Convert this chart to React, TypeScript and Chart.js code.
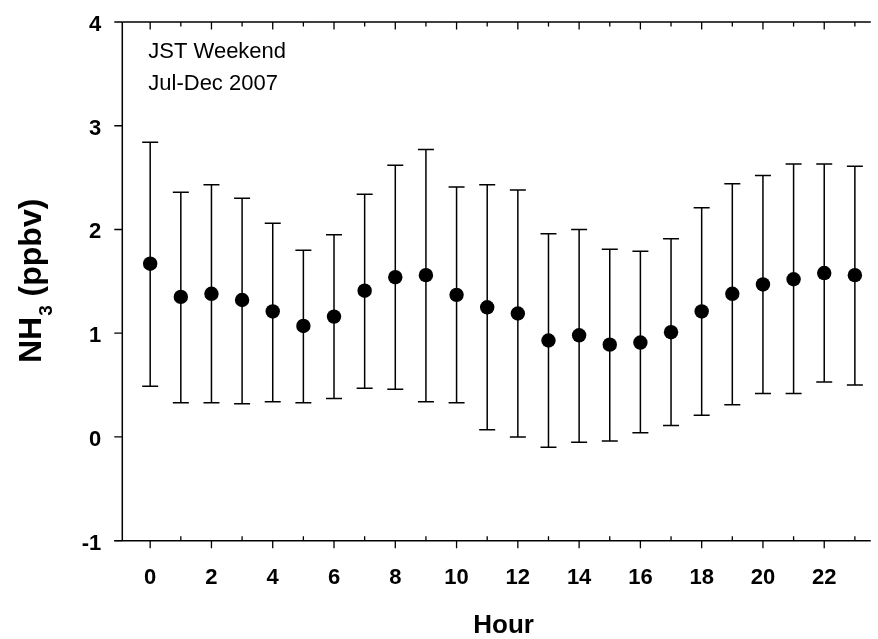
import { useEffect, useRef } from "react";
import { Chart, registerables } from "chart.js";

Chart.register(...registerables);

const hours = [0, 1, 2, 3, 4, 5, 6, 7, 8, 9, 10, 11, 12, 13, 14, 15, 16, 17, 18, 19, 20, 21, 22, 23];
const means = [1.67, 1.35, 1.38, 1.32, 1.21, 1.07, 1.16, 1.41, 1.54, 1.56, 1.37, 1.25, 1.19, 0.93, 0.98, 0.89, 0.91, 1.01, 1.21, 1.38, 1.47, 1.52, 1.58, 1.56];
const upper = [2.84, 2.36, 2.43, 2.3, 2.06, 1.8, 1.95, 2.34, 2.62, 2.77, 2.41, 2.43, 2.38, 1.96, 2.0, 1.81, 1.79, 1.91, 2.21, 2.44, 2.52, 2.63, 2.63, 2.61];
const lower = [0.49, 0.33, 0.33, 0.32, 0.34, 0.33, 0.37, 0.47, 0.46, 0.34, 0.33, 0.07, 0.0, -0.1, -0.05, -0.04, 0.04, 0.11, 0.21, 0.31, 0.42, 0.42, 0.53, 0.5];

const xMajorTicks = [0, 2, 4, 6, 8, 10, 12, 14, 16, 18, 20, 22];
const xMinorTicks = [1, 3, 5, 7, 9, 11, 13, 15, 17, 19, 21, 23];
const yTicks = [-1, 0, 1, 2, 3, 4];
const annotationLines = ["JST Weekend", "Jul-Dec 2007"];
const xTitle = "Hour";

const FONT = "'Liberation Sans', Arial, sans-serif";

const errorBarPlugin = {
  id: "errorBars",
  beforeDatasetsDraw(chart: any) {
    const { ctx } = chart;
    const xs = chart.scales.x;
    const ys = chart.scales.y;
    ctx.save();
    ctx.strokeStyle = "#000";
    ctx.lineWidth = 1.5;
    hours.forEach((h, i) => {
      const px = xs.getPixelForValue(h);
      const pt = ys.getPixelForValue(upper[i]);
      const pb = ys.getPixelForValue(lower[i]);
      ctx.beginPath();
      ctx.moveTo(px, pt);
      ctx.lineTo(px, pb);
      ctx.moveTo(px - 8, pt);
      ctx.lineTo(px + 8, pt);
      ctx.moveTo(px - 8, pb);
      ctx.lineTo(px + 8, pb);
      ctx.stroke();
    });
    ctx.restore();
  },
};

const axesPlugin = {
  id: "frameAxes",
  afterDraw(chart: any) {
    const { ctx, chartArea } = chart;
    const xs = chart.scales.x;
    const ys = chart.scales.y;
    const { left, right, top, bottom } = chartArea;
    ctx.save();
    ctx.strokeStyle = "#000";
    ctx.lineWidth = 1.5;
    ctx.beginPath();
    ctx.moveTo(left, top);
    ctx.lineTo(right, top);
    ctx.moveTo(left, top);
    ctx.lineTo(left, bottom);
    ctx.moveTo(left - 8, bottom);
    ctx.lineTo(right, bottom);
    ctx.stroke();

    ctx.lineWidth = 1.3;
    ctx.beginPath();
    xMajorTicks.forEach((t) => {
      const px = xs.getPixelForValue(t);
      ctx.moveTo(px, bottom);
      ctx.lineTo(px, bottom + 7.5);
      ctx.moveTo(px, top);
      ctx.lineTo(px, top + 7.5);
    });
    xMinorTicks.forEach((t) => {
      const px = xs.getPixelForValue(t);
      ctx.moveTo(px, bottom);
      ctx.lineTo(px, bottom - 4.5);
      ctx.moveTo(px, top);
      ctx.lineTo(px, top + 4.5);
    });
    yTicks.forEach((t) => {
      const py = ys.getPixelForValue(t);
      ctx.moveTo(left, py);
      ctx.lineTo(left - 8, py);
    });
    ctx.stroke();

    ctx.fillStyle = "#000";
    ctx.font = `bold 22px ${FONT}`;
    ctx.textAlign = "right";
    ctx.textBaseline = "alphabetic";
    yTicks.forEach((t) => {
      const py = ys.getPixelForValue(t);
      ctx.fillText(String(t), left - 21, py + 9);
    });
    ctx.textAlign = "center";
    xMajorTicks.forEach((t) => {
      const px = xs.getPixelForValue(t);
      ctx.fillText(String(t), px, bottom + 43.5);
    });

    ctx.font = `bold 26px ${FONT}`;
    ctx.fillText(xTitle, (left + right) / 2 + 7, bottom + 92.5);

    const mid = (top + bottom) / 2;
    ctx.save();
    ctx.translate(40.5, mid);
    ctx.rotate(-Math.PI / 2);
    ctx.textAlign = "left";
    const bigFont = `bold 32px ${FONT}`;
    const subFont = `bold 19px ${FONT}`;
    ctx.font = bigFont;
    const w1 = ctx.measureText("NH").width;
    const w3 = ctx.measureText(" (ppbv)").width;
    ctx.font = subFont;
    const w2 = ctx.measureText("3").width;
    const total = w1 + w2 + w3;
    let x0 = -total / 2;
    ctx.font = bigFont;
    ctx.fillText("NH", x0, 0);
    x0 += w1 + 1;
    ctx.font = subFont;
    ctx.fillText("3", x0, 11);
    x0 += w2;
    ctx.font = bigFont;
    ctx.fillText(" (ppbv)", x0, 0);
    ctx.restore();

    ctx.font = `22px ${FONT}`;
    ctx.textAlign = "left";
    annotationLines.forEach((line, i) => {
      ctx.fillText(line, left + 26, top + 36 + i * 32);
    });
    ctx.restore();
  },
};

export default function App() {
  const canvasRef = useRef<HTMLCanvasElement | null>(null);

  useEffect(() => {
    document.body.style.margin = "0";
    const canvas = canvasRef.current;
    if (!canvas) return;
    const chart = new Chart(canvas, {
      type: "scatter",
      data: {
        datasets: [
          {
            label: "NH3",
            data: hours.map((h, i) => ({ x: h, y: means[i] })),
            pointRadius: 7.2,
            pointHoverRadius: 7.2,
            pointBackgroundColor: "#000",
            pointBorderWidth: 0,
            pointBorderColor: "#000",
          },
        ],
      },
      options: {
        animation: false,
        responsive: true,
        maintainAspectRatio: false,
        devicePixelRatio: 1,
        layout: { padding: { left: 122.3, top: 22, right: 0, bottom: 98.3 } },
        plugins: {
          legend: { display: false },
          tooltip: { enabled: false },
          title: { display: false },
        },
        scales: {
          x: { type: "linear", display: false, min: -0.91, max: 23.52 },
          y: { type: "linear", display: false, min: -1, max: 4 },
        },
      },
      plugins: [errorBarPlugin, axesPlugin],
    });
    return () => chart.destroy();
  }, []);

  return (
    <div style={{ position: "relative", width: "878px", height: "639px", background: "#fff" }}>
      <canvas ref={canvasRef} />
    </div>
  );
}
